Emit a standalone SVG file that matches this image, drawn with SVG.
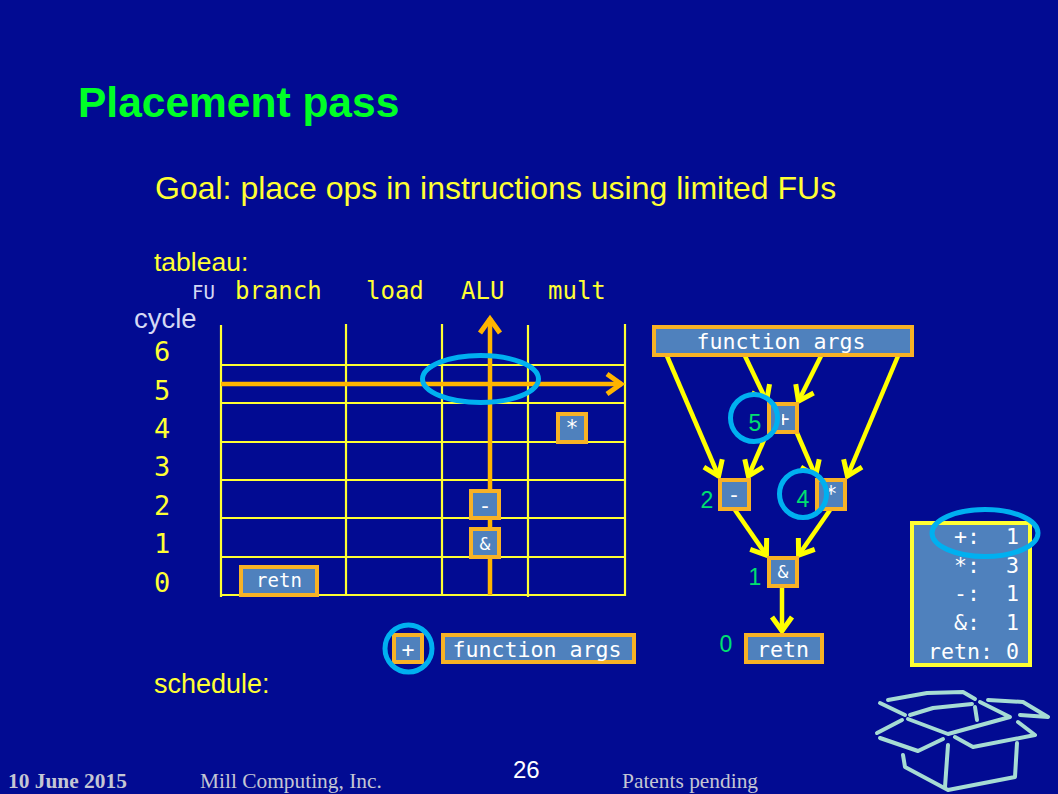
<svg xmlns="http://www.w3.org/2000/svg" width="1058" height="794" viewBox="0 0 1058 794">
<style>
.sans{font-family:"Liberation Sans",Arial,sans-serif}
.serif{font-family:"Liberation Serif","Times New Roman",serif;fill:#c4c6d4;font-size:21.400px}
.mono{font-family:"DejaVu Sans Mono","Liberation Mono",monospace}
.y{fill:#ffff33}
.hdr{font-size:24px;fill:#ffff33}
.num{font-size:27px;fill:#ffff33}
.box{fill:#4f81bd;stroke:#f8b226;stroke-width:4}
.lbl{font-size:21.600px;fill:#fff;text-anchor:middle}
.grid line{stroke:#ffff33;stroke-width:2.200}
.arr line{stroke:#ffff00;stroke-width:4.500;marker-end:url(#hy)}
.ring{fill:none;stroke:#00b0f0;stroke-width:5}
.g{font-size:23px;fill:#00e070;text-anchor:middle}
.cnt{font-size:21.600px;fill:#fff;text-anchor:end;white-space:pre}
.bx{fill:none;stroke:#a6dcd4;stroke-width:4;stroke-linecap:round;stroke-linejoin:round}
</style>
<defs>
<marker id="hy" markerUnits="userSpaceOnUse" markerWidth="26" markerHeight="30" refX="21" refY="15" orient="auto"><path d="M6 5L20 15L6 25" fill="none" stroke="#ffff00" stroke-width="5"/></marker>
<marker id="ho" markerUnits="userSpaceOnUse" markerWidth="26" markerHeight="30" refX="21" refY="15" orient="auto"><path d="M6 5L20 15L6 25" fill="none" stroke="#ffb400" stroke-width="5"/></marker>
<clipPath id="cp"><rect x="782" y="400" width="20" height="36"/></clipPath>
<clipPath id="cs"><rect x="829" y="476" width="20" height="36"/></clipPath>
</defs>
<rect width="1058" height="794" fill="#020b92"/>

<g id="title"><text class="sans" x="78" y="117" font-size="42.500" font-weight="700" fill="#00ff26">Placement pass</text></g>
<g id="goal"><text class="sans y" x="155" y="199" font-size="32">Goal: place ops in instructions using limited FUs</text></g>
<g id="tableau-label"><text class="sans y" x="154" y="271" font-size="26.500">tableau:</text></g>
<g id="schedule-label"><text class="sans y" x="154" y="693" font-size="27">schedule:</text></g>

<g id="fu-header">
<text class="mono" x="192" y="299" font-size="19" fill="#d4d8f4">FU</text>
<text class="mono hdr" x="235" y="299">branch</text>
<text class="mono hdr" x="366" y="299">load</text>
<text class="mono hdr" x="461" y="299">ALU</text>
<text class="mono hdr" x="548" y="299">mult</text>
</g>
<g id="cycle-axis">
<text class="sans" x="134" y="328" font-size="27.500" fill="#d4d8f4">cycle</text>
<text class="mono num" x="154" y="361">6</text>
<text class="mono num" x="154" y="400">5</text>
<text class="mono num" x="154" y="438">4</text>
<text class="mono num" x="154" y="476">3</text>
<text class="mono num" x="154" y="515">2</text>
<text class="mono num" x="154" y="553">1</text>
<text class="mono num" x="154" y="592">0</text>
</g>

<g id="tableau-grid" class="grid">
<line x1="221" y1="325" x2="221" y2="597"/><line x1="346" y1="324" x2="346" y2="596"/><line x1="442" y1="324" x2="442" y2="596"/><line x1="528" y1="325" x2="528" y2="597"/><line x1="625" y1="324" x2="625" y2="596"/>
<line x1="221" y1="365" x2="625" y2="365"/><line x1="221" y1="403" x2="625" y2="403"/><line x1="221" y1="442" x2="625" y2="442"/><line x1="221" y1="480" x2="625" y2="480"/><line x1="221" y1="518" x2="625" y2="518"/><line x1="221" y1="557" x2="625" y2="557"/><line x1="221" y1="595" x2="625" y2="595"/>
</g>

<g id="connectors">
<g id="tableau-arrows">
<line x1="221" y1="384" x2="622" y2="384" stroke="#ffb400" stroke-width="4.500" marker-end="url(#ho)"/>
<line x1="490" y1="595" x2="490" y2="318" stroke="#ffb400" stroke-width="4.500" marker-end="url(#ho)"/>
</g>
<g id="graph-arrows" class="arr">
<line x1="667" y1="356" x2="719" y2="477"/>
<line x1="745" y1="356" x2="767" y2="402"/>
<line x1="821" y1="356" x2="798" y2="402"/>
<line x1="898" y1="356" x2="847" y2="477"/>
<line x1="767" y1="433" x2="748" y2="477"/>
<line x1="797" y1="433" x2="816" y2="477"/>
<line x1="735" y1="510" x2="767" y2="556"/>
<line x1="830" y1="510" x2="798" y2="556"/>
<line x1="782" y1="587" x2="782" y2="632"/>
</g>
</g>

<circle cx="754" cy="418" r="24" fill="#020b92"/>
<circle cx="803" cy="494" r="24" fill="#020b92"/>

<g id="sched-star"><rect class="box" x="558" y="414" width="28" height="28"/><text class="mono lbl" x="572" y="435">*</text></g>
<g id="sched-minus"><rect class="box" x="471" y="491" width="28" height="27"/><text class="mono lbl" x="485" y="513">-</text></g>
<g id="sched-and"><rect class="box" x="471" y="529" width="28" height="28"/><text class="mono lbl" x="485" y="550" style="font-size:18px">&amp;</text></g>
<g id="sched-retn"><rect class="box" x="241" y="567" width="76" height="28"/><text class="mono lbl" x="279" y="587" style="font-size:19px">retn</text></g>
<g id="pending-plus"><rect class="box" x="394" y="635" width="28" height="27"/><text class="mono lbl" x="408" y="657">+</text></g>
<g id="pending-args"><rect class="box" x="443" y="635" width="191" height="27"/><text class="mono lbl" x="537" y="657">function args</text></g>
<g id="pending-ring"><circle class="ring" cx="408.500" cy="648.500" r="23.500"/></g>
<g id="tableau-ring"><ellipse class="ring" cx="480.500" cy="379" rx="58" ry="23.500"/></g>

<g id="node-args"><rect class="box" x="654" y="327" width="258" height="28"/><text class="mono lbl" x="781" y="349">function args</text></g>
<g id="node-plus"><rect class="box" x="769" y="404" width="28" height="28"/><text class="mono lbl" x="783" y="426" clip-path="url(#cp)">+</text><circle class="ring" cx="754" cy="418" r="23.500"/><text class="sans g" x="755" y="431">5</text></g>
<g id="node-minus"><rect class="box" x="720" y="480" width="29" height="29"/><text class="mono lbl" x="734" y="502">-</text><text class="sans g" x="707" y="508">2</text></g>
<g id="node-star"><rect class="box" x="817" y="480" width="28" height="29"/><text class="mono lbl" x="831" y="501" clip-path="url(#cs)">*</text><circle class="ring" cx="803" cy="494" r="23.500"/><text class="sans g" x="803" y="507">4</text></g>
<g id="node-and"><rect class="box" x="769" y="558" width="28" height="28"/><text class="mono lbl" x="783" y="578" style="font-size:18px">&amp;</text><text class="sans g" x="755" y="585">1</text></g>
<g id="node-retn"><rect class="box" x="746" y="635" width="76" height="27"/><text class="mono lbl" x="783" y="657">retn</text><text class="sans g" x="726" y="652">0</text></g>

<g id="counts">
<rect x="912" y="523" width="118" height="142" fill="#4f81bd" stroke="#ffff33" stroke-width="4"/>
<text class="mono cnt" x="1019" y="544">+:  1</text>
<text class="mono cnt" x="1019" y="573">*:  3</text>
<text class="mono cnt" x="1019" y="601">-:  1</text>
<text class="mono cnt" x="1019" y="630">&amp;:  1</text>
<text class="mono cnt" x="1019" y="659">retn: 0</text>
<ellipse class="ring" cx="985" cy="533" rx="53" ry="23.500"/>
</g>

<g id="box-logo" class="bx">
<path d="M888 700L927 693L963 692L975 699"/>
<path d="M880 703L905 715"/>
<path d="M910 715L933 708L972 704"/>
<path d="M877 733L902 720"/>
<path d="M908 719L948 734L1010 717L980 702"/>
<path d="M975 707L977 720"/>
<path d="M988 700L1023 702L1048 717L1020 715"/>
<path d="M1018 722L1035 735L973 747L955 737"/>
<path d="M880 738L918 751L943 739"/>
<path d="M903 755L905 767L948 790L1015 777L1017 743"/>
<path d="M948 745L945 787"/>
</g>

<g id="footer">
<text class="serif" x="8" y="788" font-weight="700">10 June 2015</text>
<text class="serif" x="200" y="788">Mill Computing, Inc.</text>
<text class="sans" x="513" y="778" font-size="24" fill="#fff">26</text>
<text class="serif" x="622" y="788">Patents pending</text>
</g>
</svg>
